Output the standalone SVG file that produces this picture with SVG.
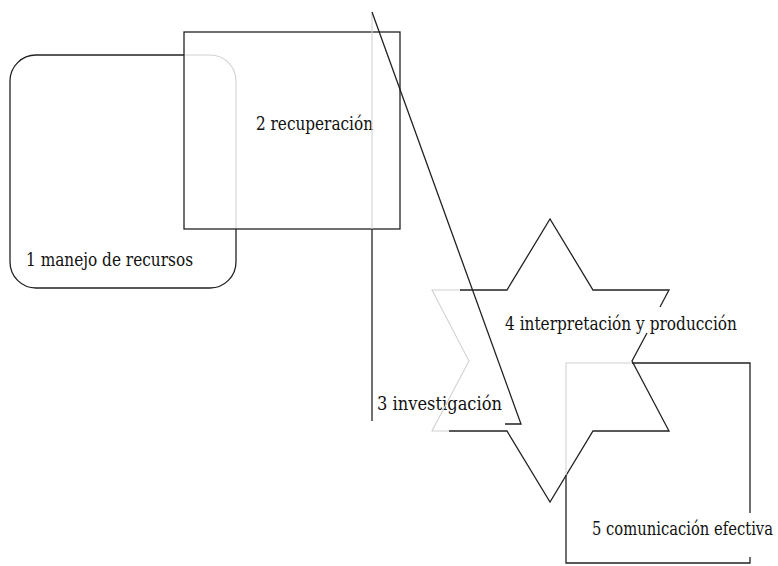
<svg xmlns="http://www.w3.org/2000/svg" width="778" height="566" viewBox="0 0 778 566">
  <style>
    .edge { fill: none; stroke: #222; stroke-width: 1.3; stroke-linejoin: miter; }
    .hidden { fill: none; stroke: #d2d2d2; stroke-width: 1.1; }
    text { font-family: 'DejaVu Serif', 'Liberation Serif', serif; font-size: 17.8px; fill: #111; }
  </style>
  <rect width="778" height="566" fill="#fff"/>

  <!-- 1: rounded box, its upper right part lies under box 2 -->
  <g id="node-1">
    <path class="edge" d="M184,55 H36 A26,26 0 0 0 10,81 V262 A26,26 0 0 0 36,288 H210 A26,26 0 0 0 236,262 V229"/>
    <path class="hidden" d="M236,229 V81 A26,26 0 0 0 210,55 H184"/>
    <text x="26" y="266" textLength="167" lengthAdjust="spacingAndGlyphs">1 manejo de recursos</text>
  </g>

  <!-- 2: square box -->
  <g id="node-2">
    <rect class="edge" x="184" y="32" width="216" height="197"/>
    <text x="256" y="130" textLength="117" lengthAdjust="spacingAndGlyphs">2 recuperación</text>
  </g>

  <!-- 3: right triangle -->
  <g id="node-3">
    <path class="hidden" d="M372,229 V12"/>
    <path class="edge" d="M372,12 L521,424 H505"/>
    <path class="edge" d="M372,229 V421"/>
    <text x="377" y="410" textLength="125" lengthAdjust="spacingAndGlyphs">3 investigación</text>
  </g>

  <!-- 4: six-pointed star -->
  <g id="node-4">
    <path class="edge" d="M460,290 H507 L550,219 L593,290 H669 L660,307"/>
    <path class="edge" d="M647,333 L632,361 L669,431 H593 L550,502 L507,431 H449"/>
    <path class="hidden" d="M449,431 H432 L469,361 L432,290 H460"/>
    <text x="505" y="330" textLength="232" lengthAdjust="spacingAndGlyphs">4 interpretación y producción</text>
  </g>

  <!-- 5: square box, top left corner under the star -->
  <g id="node-5">
    <path class="edge" d="M632,363 H750 V513"/>
    <path class="edge" d="M750,557 V563 H566 V475"/>
    <path class="hidden" d="M566,475 V363 H632"/>
    <text x="592" y="535" textLength="181" lengthAdjust="spacingAndGlyphs">5 comunicación efectiva</text>
  </g>

  <g id="connectors"/>
</svg>
